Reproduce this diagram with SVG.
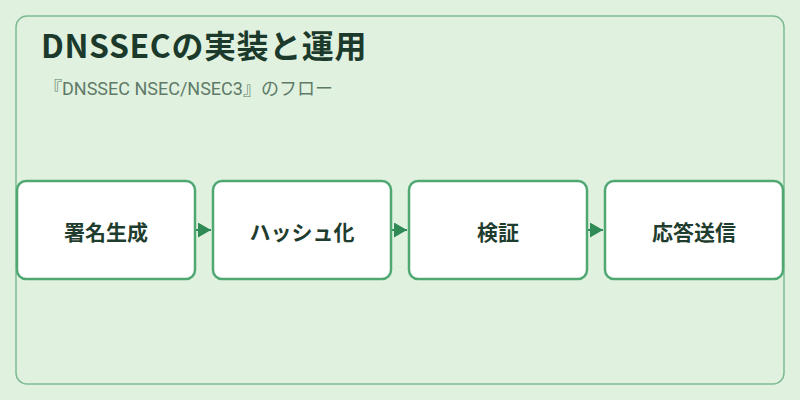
<svg xmlns="http://www.w3.org/2000/svg" width="800" height="400" viewBox="0 0 800 400">
<defs>
<style>
.node rect{fill:#ffffff;stroke:#4fa872;stroke-width:2.5}
.node text{font-family:"Noto Sans CJK JP","Noto Sans",sans-serif;font-size:21px;font-weight:bold;fill:#1f3d2e;text-anchor:middle;dominant-baseline:central}
.conn{stroke:#2f8a55;stroke-width:2;fill:none}
</style>
<marker id="ah" markerWidth="13" markerHeight="15" refX="13" refY="7.5" orient="auto" markerUnits="userSpaceOnUse">
<path d="M0,0 L13,7.5 L0,15 Z" fill="#2f8a55"/>
</marker>
</defs>
<rect x="0" y="0" width="800" height="400" fill="#e0f2df"/>
<rect x="16" y="16" width="768" height="368" rx="11" fill="#e0f2df" stroke="#7dba92" stroke-width="1.5"/>
<text x="41" y="58" font-family="'Noto Sans CJK JP',sans-serif" font-size="32" font-weight="bold" letter-spacing="0.6" fill="#1c3a2c">DNSSECの実装と運用</text>
<text x="44" y="95" font-family="Roboto,'Noto Sans CJK JP',sans-serif" font-size="18" fill="#5f7a68">『DNSSEC NSEC/NSEC3』のフロー</text>
<g id="connectors">
<line class="conn" x1="196" y1="230" x2="211" y2="230" marker-end="url(#ah)"/>
<line class="conn" x1="392" y1="230" x2="407" y2="230" marker-end="url(#ah)"/>
<line class="conn" x1="588" y1="230" x2="603" y2="230" marker-end="url(#ah)"/>
</g>
<g id="n1" class="node"><rect x="17" y="181" width="178" height="98" rx="9"/><text x="106" y="231">署名生成</text></g>
<g id="n2" class="node"><rect x="213" y="181" width="178" height="98" rx="9"/><text x="302" y="231">ハッシュ化</text></g>
<g id="n3" class="node"><rect x="409" y="181" width="178" height="98" rx="9"/><text x="498" y="231">検証</text></g>
<g id="n4" class="node"><rect x="605" y="181" width="178" height="98" rx="9"/><text x="694" y="231">応答送信</text></g>
</svg>
